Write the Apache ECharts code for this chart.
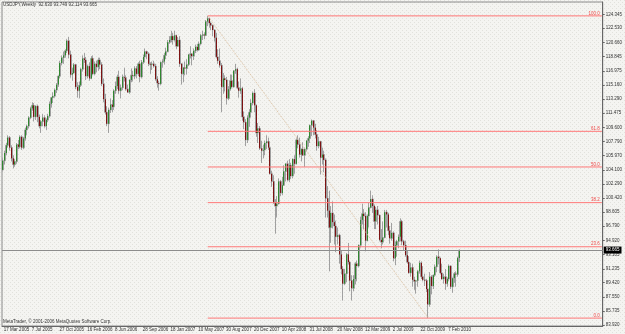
<!DOCTYPE html>
<html>
<head>
<meta charset="utf-8">
<script src="https://cdn.jsdelivr.net/npm/echarts@6/dist/echarts.min.js"></script>
<style>
  html, body { margin: 0; padding: 0; }
  #chart { width: 625px; height: 334px; }
</style>
</head>
<body>
<div id="chart"></div>
<script>
  // weekly USDJPY bars, first bar = week of 14 Mar 2005
  const opens = [
    104.1,105.3,106.3,107.3,108.3,107.0,105.6,104.8,105.2,107.4,107.1,108.4,107.0,108.2,109.3,109.8,110.9,112.1,112.5,111.0,
    112.4,111.0,109.8,110.4,110.9,109.8,110.6,111.1,112.7,113.5,113.7,114.5,115.2,116.3,118.0,118.7,119.0,119.6,120.9,119.1,
    116.5,116.7,117.8,114.9,114.4,115.1,117.2,118.6,118.4,116.3,117.6,116.0,118.6,116.6,117.9,117.5,118.4,117.8,115.3,113.3,
    111.6,110.1,111.9,112.6,112.3,114.4,115.0,116.2,114.4,114.8,116.2,116.1,114.6,114.2,115.8,116.4,116.3,117.3,116.6,117.9,
    116.2,118.1,118.8,119.5,119.2,117.9,117.8,117.9,117.6,115.9,115.4,115.3,118.1,118.2,119.0,119.5,120.7,121.0,121.5,121.0,
    121.6,120.2,121.0,117.9,116.6,117.4,117.3,117.8,119.1,119.2,118.9,119.6,120.1,119.7,120.5,121.6,121.7,121.6,123.4,123.8,
    123.2,122.9,122.3,121.3,118.8,118.3,117.7,114.9,116.0,115.8,113.4,114.6,115.7,114.9,117.0,117.2,114.8,114.4,114.7,111.0,
    110.3,108.0,110.9,111.6,112.8,114.1,112.5,108.9,109.5,106.9,106.6,106.7,107.6,107.8,107.0,103.6,102.6,99.8,99.4,99.7,
    102.6,101.1,102.1,103.9,104.9,102.8,104.7,103.3,105.5,104.9,108.0,107.4,106.1,106.8,106.0,106.8,107.9,108.2,109.9,110.5,
    109.6,108.7,107.2,107.8,105.7,106.1,105.4,100.4,98.8,96.6,98.5,97.3,96.8,95.4,95.6,93.1,91.2,89.3,90.6,93.1,
    92.1,89.7,88.7,89.9,91.9,91.6,94.3,97.6,98.4,98.1,94.9,98.1,99.2,100.3,99.4,97.4,98.9,98.2,95.0,94.7,
    95.3,98.6,98.3,96.2,95.2,95.9,92.6,94.3,94.8,95.4,97.4,94.8,94.3,93.0,92.1,90.7,91.4,89.8,89.6,89.7,
    90.9,92.0,90.2,89.8,89.7,88.6,86.6,90.2,89.0,90.4,91.5,92.8,92.6,90.7,89.9,90.2,89.3,89.9,91.6,88.9,
    90.0,90.6,90.5,92.63
  ];
  const highs = [
    105.7,106.6,107.6,108.6,108.5,107.3,106.0,105.5,107.6,108.0,108.6,108.6,108.4,109.6,110.0,111.1,112.3,112.9,112.8,112.5,
    112.6,111.3,110.6,111.4,111.2,110.8,111.4,113.0,113.6,114.2,114.7,115.4,116.4,118.3,119.0,119.5,119.8,121.1,121.4,119.6,
    117.4,118.0,117.9,115.5,115.6,117.4,119.0,119.3,118.8,117.8,118.1,118.9,119.0,118.2,118.3,118.7,118.7,118.1,116.0,114.0,
    112.4,112.2,113.4,113.2,114.6,115.6,116.5,117.0,115.2,116.5,117.4,116.4,115.2,115.9,117.3,117.0,117.6,117.6,118.1,118.3,
    118.4,119.1,119.9,119.6,119.4,118.1,118.2,118.3,117.9,116.3,115.7,118.2,118.5,119.3,120.0,121.0,121.5,122.2,121.9,122.2,
    121.7,121.4,121.5,118.0,117.5,118.2,118.5,119.2,120.2,119.3,119.9,120.4,120.5,120.8,121.8,122.2,122.0,123.6,124.14,123.9,
    123.4,123.0,122.4,121.9,119.8,119.9,118.0,116.7,116.4,116.2,115.0,116.5,116.5,117.1,117.9,117.4,115.6,116.0,114.9,111.7,
    110.7,111.2,112.0,113.3,114.3,114.6,112.6,110.2,109.8,107.9,107.4,107.9,108.6,108.3,107.2,104.0,103.4,100.3,100.7,103.0,
    102.8,103.2,104.7,105.0,105.3,105.5,105.0,105.6,106.0,108.2,108.6,108.3,106.9,107.7,107.0,108.0,108.5,110.0,110.66,110.6,
    110.1,109.3,108.4,107.8,107.0,106.6,105.6,102.0,101.4,99.4,100.0,98.3,97.5,96.6,95.8,93.6,91.6,91.2,93.3,94.6,
    92.3,90.4,90.4,92.1,92.3,94.4,98.0,99.7,99.0,98.6,98.3,99.8,101.4,100.8,99.6,99.3,99.4,98.3,96.4,97.4,
    98.9,98.9,98.5,96.8,97.2,96.1,94.8,95.0,95.7,97.8,97.6,95.0,94.9,93.6,92.9,92.0,91.9,90.2,89.8,91.1,
    92.3,92.2,91.6,90.6,89.9,89.0,90.8,90.4,90.5,91.8,93.0,93.77,92.7,91.9,90.6,91.2,90.1,91.8,91.7,90.1,
    90.8,90.9,92.8,93.749
  ];
  const lows = [
    103.9,104.8,106.0,107.0,106.6,105.2,104.3,104.5,104.9,106.8,106.9,106.7,106.8,107.9,108.6,109.5,110.7,111.8,110.4,110.6,
    110.3,109.5,108.9,109.8,109.6,109.3,110.3,110.9,112.2,112.8,113.5,114.1,114.9,116.0,117.7,117.9,118.7,119.3,118.6,116.1,
    115.7,116.6,114.6,113.5,113.4,114.9,116.9,118.0,115.8,116.0,115.7,115.9,116.4,116.4,116.8,117.0,117.2,115.0,112.9,111.3,
    109.8,108.9,111.5,111.6,111.9,114.0,114.6,114.0,113.4,114.5,115.6,114.4,114.1,114.0,115.5,115.6,115.9,116.0,116.3,115.5,
    116.0,117.9,118.6,118.5,117.6,116.6,117.1,117.4,115.7,114.8,114.4,115.1,117.4,117.8,118.5,119.4,120.5,120.7,120.4,120.8,
    119.8,120.1,117.5,115.2,115.5,116.4,116.5,117.6,118.6,117.7,118.4,119.3,119.5,119.6,120.3,121.0,121.1,121.5,122.8,122.6,
    122.3,121.5,120.8,118.6,117.9,117.4,111.6,114.0,114.3,112.6,113.2,114.4,114.7,114.8,116.6,114.6,113.5,114.0,110.5,109.4,
    107.2,107.6,109.7,110.9,112.5,111.6,108.4,107.6,106.7,105.0,105.6,106.0,106.8,106.7,103.5,101.9,99.7,95.8,97.9,99.6,
    100.7,100.8,102.0,102.6,102.6,102.5,102.9,103.0,103.6,104.8,106.9,105.7,105.2,105.9,104.5,106.5,107.1,107.6,108.5,108.6,
    108.2,106.6,106.9,103.5,104.8,103.8,97.9,97.9,90.9,94.6,96.5,94.4,93.4,94.4,91.9,90.5,87.1,89.1,89.5,91.8,
    88.3,87.1,88.3,89.2,89.6,91.4,94.0,97.0,96.4,93.5,94.8,96.6,99.1,98.5,96.4,96.4,97.0,94.8,93.9,94.4,
    95.2,96.6,95.6,94.5,94.9,92.2,91.7,92.8,93.9,94.8,94.3,93.6,92.8,91.9,90.6,90.2,88.9,88.5,88.0,88.9,
    90.6,89.9,89.6,89.0,88.2,84.82,86.3,87.9,88.6,90.2,90.8,91.8,90.5,89.8,89.3,88.5,88.9,89.6,88.6,88.1,
    89.4,88.9,90.2,92.114
  ];
  const closes = [
    105.3,106.3,107.3,108.3,107.0,105.6,104.8,105.2,107.4,107.1,108.4,107.0,108.2,109.3,109.8,110.9,112.1,112.5,111.0,112.4,
    111.0,109.8,110.4,110.9,109.8,110.6,111.1,112.7,113.5,113.7,114.5,115.2,116.3,118.0,118.7,119.0,119.6,120.9,119.1,116.5,
    116.7,117.8,114.9,114.4,115.1,117.2,118.6,118.4,116.3,117.6,116.0,118.6,116.6,117.9,117.5,118.4,117.8,115.3,113.3,111.6,
    110.1,111.9,112.6,112.3,114.4,115.0,116.2,114.4,114.8,116.2,116.1,114.6,114.2,115.8,116.4,116.3,117.3,116.6,117.9,116.2,
    118.1,118.8,119.5,119.2,117.9,117.8,117.9,117.6,115.9,115.4,115.3,118.1,118.2,119.0,119.5,120.7,121.0,121.5,121.0,121.6,
    120.2,121.0,117.9,116.6,117.4,117.3,117.8,119.1,119.2,118.9,119.6,120.1,119.7,120.5,121.6,121.7,121.6,123.4,123.8,123.2,
    122.9,122.3,121.3,118.8,118.3,117.7,114.9,116.0,115.8,113.4,114.6,115.7,114.9,117.0,117.2,114.8,114.4,114.7,111.0,110.3,
    108.0,110.9,111.6,112.8,114.1,112.5,108.9,109.5,106.9,106.6,106.7,107.6,107.8,107.0,103.6,102.6,99.8,99.4,99.7,102.6,
    101.1,102.1,103.9,104.9,102.8,104.7,103.3,105.5,104.9,108.0,107.4,106.1,106.8,106.0,106.8,107.9,108.2,109.9,110.5,109.6,
    108.7,107.2,107.8,105.7,106.1,105.4,100.4,98.8,96.6,98.5,97.3,96.8,95.4,95.6,93.1,91.2,89.3,90.6,93.1,92.1,
    89.7,88.7,89.9,91.9,91.6,94.3,97.6,98.4,98.1,94.9,98.1,99.2,100.3,99.4,97.4,98.9,98.2,95.0,94.7,95.3,
    98.6,98.3,96.2,95.2,95.9,92.6,94.3,94.8,95.4,97.4,94.8,94.3,93.0,92.1,90.7,91.4,89.8,89.6,89.7,90.9,
    92.0,90.2,89.8,89.7,88.6,86.6,90.2,89.0,90.4,91.5,92.8,92.6,90.7,89.9,90.2,89.3,89.9,91.6,88.9,90.0,
    90.6,90.5,92.63,93.665
  ];

  const xTickLabels = ['17 Mar 2005', '7 Jul 2005', '27 Oct 2005', '16 Feb 2006', '8 Jun 2006', '28 Sep 2006',
    '18 Jan 2007', '10 May 2007', '30 Aug 2007', '20 Dec 2007', '10 Apr 2008', '31 Jul 2008', '20 Nov 2008',
    '12 Mar 2009', '2 Jul 2009', '22 Oct 2009', '7 Feb 2010'];
  const yTickLabels = [124.345, 122.530, 120.660, 118.845, 116.975, 115.160, 113.290, 111.475, 109.600, 107.790,
    105.970, 104.100, 102.290, 100.420, 98.605, 96.790, 94.920, 93.105, 91.235, 89.420, 87.550, 85.735, 83.920];

  // fibonacci retracement drawn from the Jun 2007 high to the Nov 2009 low
  const fibStartBar = 118;
  const fibEndBar = 245;
  const fibHigh = 124.14;
  const fibLow = 84.82;
  const fibLevels = [0, 23.6, 38.2, 50.0, 61.8, 100.0];

  const tickEvery = 16;
  const slotCount = 346;   // bars + empty space on the right

  const categories = [];
  for (let i = 0; i < slotCount; i++) categories.push(String(i));

  const wickData = [];
  const bodyData = [];
  for (let i = 0; i < slotCount; i++) {
    if (i < opens.length) {
      const o = opens[i], c = closes[i];
      wickData.push([o, c, lows[i], highs[i]]);
      bodyData.push([o, c, Math.min(o, c), Math.max(o, c)]);
    } else {
      wickData.push('-');
      bodyData.push('-');
    }
  }

  const last = opens.length - 1;
  const fmt = v => v.toFixed(3);
  const header = 'USDJPY,Weekly  ' + [opens[last], highs[last], lows[last], closes[last]].map(fmt).join(' ');
  const bid = closes[last];

  const fibColor = '#ff7878';
  const fibSeries = fibLevels.map(function (lv) {
    const price = fibLow + (fibHigh - fibLow) * lv / 100;
    return {
      name: 'fib ' + lv.toFixed(1),
      type: 'line',
      silent: true,
      symbol: 'none',
      z: 3,
      clip: false,
      lineStyle: {color: fibColor, width: 1, type: 'solid'},
      endLabel: {
        show: true,
        formatter: lv.toFixed(1),
        color: '#f04c4c', fontSize: 4.5, fontFamily: 'Liberation Sans',
        align: 'right', verticalAlign: 'bottom', distance: 0, offset: [-2, 0]
      },
      data: [[fibStartBar, price], [slotCount - 1, price]]
    };
  });

  // dotted paper background
  const pat = document.createElement('canvas');
  pat.width = 4;
  pat.height = 4;
  const pctx = pat.getContext('2d');
  pctx.fillStyle = '#f4f4f1';
  pctx.fillRect(0, 0, 4, 4);
  pctx.fillStyle = '#e1e1dc';
  pctx.fillRect(0, 0, 1, 1);
  pctx.fillRect(2, 2, 1, 1);

  const chart = echarts.init(document.getElementById('chart'));
  chart.setOption({
    animation: false,
    backgroundColor: {image: pat, repeat: 'repeat'},
    textStyle: {fontFamily: 'Liberation Sans'},
    title: {
      text: header,
      left: 3, top: 2, padding: 0,
      textStyle: {fontSize: 4.5, fontWeight: 'normal', color: '#333', fontFamily: 'Liberation Sans'}
    },
    graphic: [{
      type: 'text', left: 3, top: 319,
      style: {text: 'MetaTrader, © 2001-2006 MetaQuotes Software Corp.', fontSize: 4.5, fill: '#333', fontFamily: 'Liberation Sans'}
    }],
    grid: {
      left: 2, top: 2, width: 606, height: 324,
      show: true, borderColor: '#8a8a8a', borderWidth: 1
    },
    xAxis: {
      type: 'category',
      data: categories,
      boundaryGap: true,
      axisLine: {lineStyle: {color: '#666'}},
      axisTick: {
        length: 3,
        interval: function (idx) { return idx % tickEvery === 0 && idx / tickEvery < xTickLabels.length; },
        lineStyle: {color: '#666'}
      },
      axisLabel: {
        interval: function (idx) { return idx % tickEvery === 0 && idx / tickEvery < xTickLabels.length; },
        formatter: function (v, idx) { return xTickLabels[idx / tickEvery] || ''; },
        align: 'left', margin: 1, fontSize: 4.5, color: '#333', padding: [0, 0, 0, 1]
      },
      splitLine: {show: false}
    },
    yAxis: {
      type: 'value',
      position: 'right',
      min: 83.79, max: 125.945,
      scale: true,
      axisLine: {show: true, lineStyle: {color: '#666'}},
      axisTick: {show: true, length: 2, customValues: yTickLabels, lineStyle: {color: '#666'}},
      axisLabel: {
        customValues: yTickLabels,
        formatter: function (v) { return v.toFixed(3); },
        fontSize: 4.5, color: '#333', margin: 3
      },
      splitLine: {show: false}
    },
    series: [
      {
        name: 'wicks',
        type: 'candlestick',
        data: wickData,
        barWidth: 1.5,
        itemStyle: {
          color: '#a0a0a0', color0: '#a0a0a0',
          borderColor: '#a0a0a0', borderColor0: '#a0a0a0', borderWidth: 1
        },
        markLine: {
          silent: true,
          symbol: 'none',
          animation: false,
          data: [
            [
              {coord: [fibStartBar, fibHigh], lineStyle: {type: 'dotted', color: '#dcc0a0', width: 1}},
              {coord: [fibEndBar, fibLow], lineStyle: {type: 'dotted', color: '#dcc0a0', width: 1}}
            ],
            {
              yAxis: bid,
              lineStyle: {color: '#8c8c8c', type: 'solid', width: 1},
              label: {
                show: true, position: 'end', formatter: fmt(bid), distance: 1,
                color: '#fff', backgroundColor: '#000', fontSize: 4.5, padding: [1, 2]
              }
            }
          ],
          label: {show: false}
        }
      },
      {
        name: 'bodies',
        type: 'candlestick',
        data: bodyData,
        barWidth: 1.2,
        itemStyle: {
          color: '#2f862f', color0: '#7c1212',
          borderColor: '#2f862f', borderColor0: '#7c1212', borderWidth: 1
        }
      }
    ].concat(fibSeries)
  });
</script>
</body>
</html>
